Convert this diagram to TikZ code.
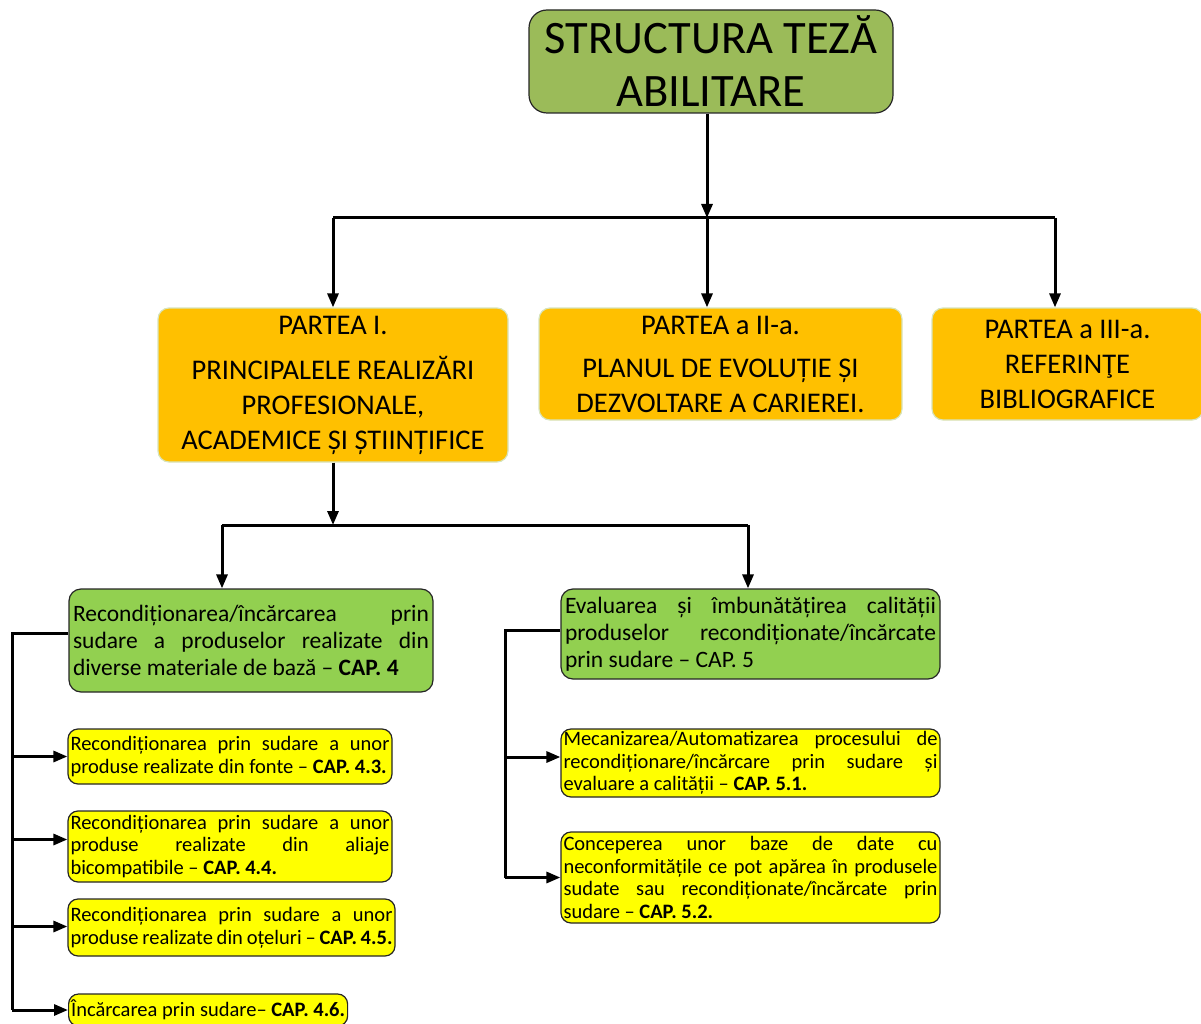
\documentclass[tikz,border=0pt]{standalone}
\usepackage{fontspec}
\setmainfont{Carlito}
\usepackage{xcolor}
\usetikzlibrary{arrows.meta}
\definecolor{titlefill}{HTML}{9BBB59}
\definecolor{partfill}{HTML}{FFC000}
\definecolor{partedge}{HTML}{D7E4BD}
\definecolor{chapfill}{HTML}{92D050}
\definecolor{subfill}{HTML}{FFFF00}
\tikzset{
    box/.style={draw=black!85, line width=1.2pt, inner ysep=2pt},
    titlebox/.style={box, fill=titlefill, rounded corners=18pt, align=center, font=\fontsize{46.5}{53}\selectfont},
    partbox/.style={box, draw=partedge, fill=partfill, rounded corners=11pt, align=center, font=\fontsize{28.5}{35}\selectfont},
    chapbox/.style={box, fill=chapfill, rounded corners=12pt, inner xsep=4pt, align=justify, font=\fontsize{23.5}{27}\selectfont},
    subbox/.style={box, fill=subfill, rounded corners=10pt, inner xsep=2.5pt, align=justify, font=\fontsize{20.5}{22.5}\selectfont},
    % Connector styles
    link/.style={line width=3pt},
    arr/.style={link, -{Triangle[length=14pt,width=11pt]}}
}
\begin{document}
\begin{tikzpicture}[x=1pt, y=-1pt]
\useasboundingbox (0,0) rectangle (1201,1024);

% Title
\node[titlebox, minimum width=364pt, minimum height=103pt] (title) at (711,61.5) {STRUCTURA TEZĂ\\ABILITARE};

% Parts
\node[partbox, minimum width=350pt, minimum height=154pt] (p1) at (333,385) {PARTEA I.\\[10pt]PRINCIPALELE REALIZĂRI\\PROFESIONALE,\\ACADEMICE ȘI ȘTIINȚIFICE};
\node[partbox, minimum width=363pt, minimum height=112pt] (p2) at (720.5,364) {PARTEA a II-a.\\[8pt]PLANUL DE EVOLUȚIE ȘI\\DEZVOLTARE A CARIEREI.};
\node[partbox, minimum width=271pt, minimum height=112pt] (p3) at (1067.5,364) {PARTEA a III-a.\\REFERINŢE\\BIBLIOGRAFICE};

% Chapters
\node[chapbox, text width=356pt, minimum height=103pt] (g1) at (251,640.5) {Recondiționarea/încărcarea prin\linebreak sudare a produselor realizate din\linebreak diverse materiale de bază – \textbf{CAP. 4}};
\node[chapbox, text width=371pt, minimum height=90pt] (g2) at (750.5,634) {Evaluarea și îmbunătățirea calității\linebreak produselor recondiționate/încărcate\linebreak prin sudare – CAP. 5};

% Sub-chapters of CAP. 4
\node[subbox, text width=319pt, minimum height=55pt] (y1) at (230,756.5) {Recondiționarea prin sudare a unor\linebreak produse realizate din fonte – \textbf{CAP. 4.3.}};
\node[subbox, text width=319pt, minimum height=71pt] (y2) at (230,846.5) {Recondiționarea prin sudare a unor\linebreak produse realizate din aliaje\linebreak bicompatibile – \textbf{CAP. 4.4.}};
\node[subbox, text width=322pt, minimum height=57pt] (y3) at (231.5,927.5) {Recondiționarea prin sudare a unor\linebreak produse realizate din oțeluri – \textbf{CAP. 4.5.}};
\node[subbox, align=left, minimum height=32pt, anchor=west] (y4) at (68,1010) {Încărcarea prin sudare– \textbf{CAP. 4.6.}};

% Sub-chapters of CAP. 5
\node[subbox, text width=374pt, minimum height=68pt] (y5) at (750.5,763) {Mecanizarea/Automatizarea procesului de\linebreak recondiționare/încărcare prin sudare și\linebreak evaluare a calității – \textbf{CAP. 5.1.}};
\node[subbox, text width=374pt, minimum height=91pt] (y6) at (750.5,877.5) {Conceperea unor baze de date cu\linebreak neconformitățile ce pot apărea în produsele\linebreak sudate sau recondiționate/încărcate prin\linebreak sudare – \textbf{CAP. 5.2.}};

% Bus lines
\coordinate (b1l) at (333,218);
\coordinate (b1m) at (707,218);
\coordinate (b1r) at (1055,218);
\coordinate (b2l) at (222,525);
\coordinate (b2r) at (748,525);
\coordinate (lbus) at (12,633);
\coordinate (rbus) at (505,630);

% Title to parts
\draw[arr] (b1m |- title.south) -- (b1m);
\draw[link] (b1l) -- (b1r);
\draw[arr] (b1l) -- (p1.north);
\draw[arr] (b1m) -- (b1m |- p2.north);
\draw[arr] (b1r) -- (b1r |- p3.north);

% Part I to chapters
\draw[arr] (p1.south) -- (b2l -| p1.south);
\draw[link] (b2l) -- (b2r);
\draw[arr] (b2l) -- (b2l |- g1.north);
\draw[arr] (b2r) -- (b2r |- g2.north);

% Chapter 4 to sub-chapters
\draw[link] (g1.west |- lbus) -- (lbus) -- (lbus |- y4.west);
\foreach \s/\d in {y1/0,y2/7,y3/1,y4/0} {
    \draw[arr] ([yshift=\d pt]lbus |- \s.west) -- ([yshift=\d pt]\s.west);
}

% Chapter 5 to sub-chapters
\draw[link] (g2.west |- rbus) -- (rbus) -- (rbus |- y6.west);
\foreach \s/\d in {y5/6,y6/0} {
    \draw[arr] ([yshift=\d pt]rbus |- \s.west) -- ([yshift=\d pt]\s.west);
}
\end{tikzpicture}
\end{document}
